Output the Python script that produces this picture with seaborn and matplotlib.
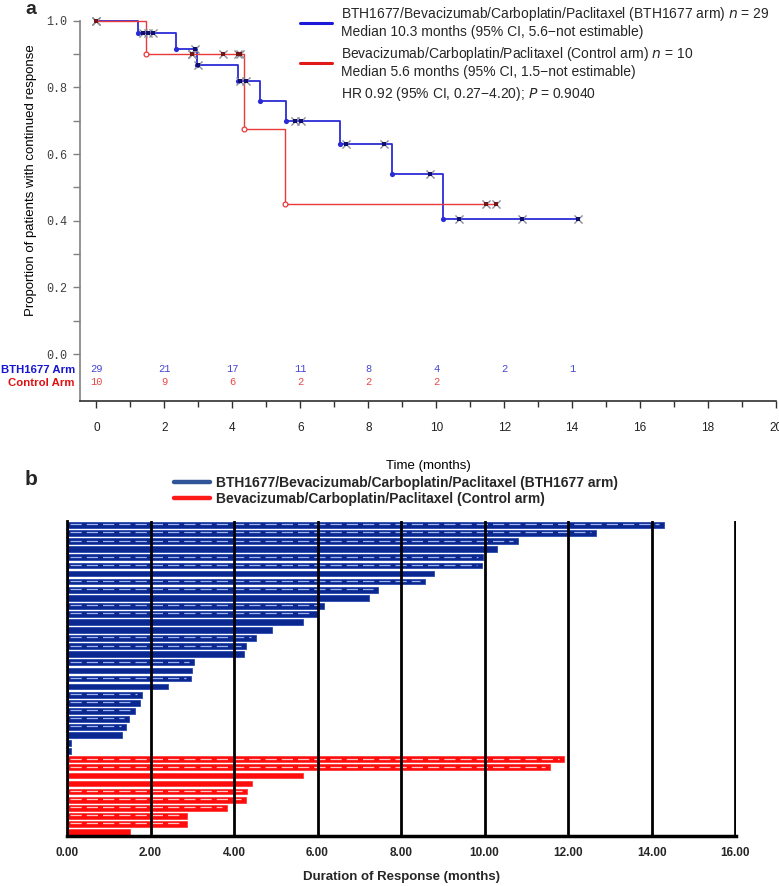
import numpy as np
import pandas as pd
import matplotlib
matplotlib.use("Agg")
import matplotlib.pyplot as plt
from matplotlib.lines import Line2D
from matplotlib.ticker import FixedLocator
import seaborn as sns

# ---------------- Panel a data (Kaplan-Meier) ----------------
bth_step_t = [0, 1.21, 2.34, 2.95, 4.17, 4.81, 5.57, 7.16, 8.70, 10.20, 14.16]
bth_step_s = [1.0, 0.962, 0.916, 0.868, 0.819, 0.759, 0.700, 0.629, 0.539, 0.404, 0.404]
bth_event_t = [1.21, 2.34, 2.95, 4.17, 4.81, 5.57, 7.16, 8.70, 10.20]
bth_censor_t = [0.0, 1.38, 1.52, 1.66, 2.90, 3.00, 4.22, 4.40, 5.84, 6.03, 7.33, 8.46,
                9.83, 10.67, 12.53, 14.16]
ctl_step_t = [0, 1.45, 4.35, 5.56, 11.76]
ctl_step_s = [1.0, 0.900, 0.674, 0.450, 0.450]
ctl_event_t = [1.45, 4.35, 5.56]
ctl_censor_t = [0.0, 2.80, 2.80, 3.71, 4.17, 4.22, 11.45, 11.76]

risk_times_bth = [0, 2, 4, 6, 8, 10, 12, 14]
bth_at_risk = [29, 21, 17, 11, 8, 4, 2, 1]
risk_times_ctl = [0, 2, 4, 6, 8, 10]
ctl_at_risk = [10, 9, 6, 2, 2, 2]

legend_a = [
    "BTH1677/Bevacizumab/Carboplatin/Paclitaxel (BTH1677 arm) $n$ = 29\nMedian 10.3 months (95% CI, 5.6\u2212not estimable)",
    "Bevacizumab/Carboplatin/Paclitaxel (Control arm) $n$ = 10\nMedian 5.6 months (95% CI, 1.5\u2212not estimable)",
    "HR 0.92 (95% CI, 0.27\u22124.20); $P$ = 0.9040",
]

# ---------------- Panel b data (duration of response swimmer bars) ----------------
bth_dur = [14.3, 12.67, 10.8, 10.3, 9.95, 9.93, 8.78, 8.57, 7.45, 7.23, 6.15, 5.98, 5.65,
           4.9, 4.52, 4.28, 4.24, 3.04, 3.0, 2.98, 2.42, 1.79, 1.75, 1.63, 1.48, 1.42, 1.31,
           0.1, 0.1]
bth_cens = [1, 1, 1, 0, 1, 1, 0, 1, 1, 0, 1, 1, 0, 0, 1, 1, 0, 1, 0, 1, 0, 1, 1, 1, 1, 1, 0,
            0, 0]
ctl_dur = [11.89, 11.56, 5.64, 4.42, 4.31, 4.28, 3.82, 2.88, 2.88, 1.52]
ctl_cens = [1, 1, 0, 0, 1, 1, 1, 1, 1, 0]
arm_names = ["BTH1677/Bevacizumab/Carboplatin/Paclitaxel (BTH1677 arm)",
             "Bevacizumab/Carboplatin/Paclitaxel (Control arm)"]

# ---------------- style ----------------
sns.set_theme(style="ticks")
plt.rcParams["font.family"] = ["Liberation Sans", "DejaVu Sans"]
MONO = ["Liberation Mono", "DejaVu Sans Mono"]

BLUE = "#2b2bd6"
RED = "#e83a3a"

W, H = 779, 886
fig = plt.figure(figsize=(W / 100, H / 100), dpi=100)

# =============== Panel a ===============
ax_l, ax_r, ax_t, ax_b = 80, 776, 20.7, 401
axa = fig.add_axes([ax_l / W, 1 - ax_b / H, (ax_r - ax_l) / W, (ax_b - ax_t) / H])


def level(step_t, step_s, times):
    idx = np.searchsorted(np.asarray(step_t), np.asarray(times), side="right") - 1
    return np.asarray(step_s)[idx]


sns.lineplot(x=bth_step_t, y=bth_step_s, drawstyle="steps-post", estimator=None, sort=False,
             color=BLUE, lw=1.3, ax=axa, clip_on=False)
sns.lineplot(x=ctl_step_t, y=ctl_step_s, drawstyle="steps-post", estimator=None, sort=False,
             color=RED, lw=1.0, ax=axa, clip_on=False)

# event markers
sns.scatterplot(x=bth_event_t, y=level(bth_step_t, bth_step_s, bth_event_t), color=BLUE,
                s=14, edgecolor=BLUE, linewidth=0, ax=axa, zorder=4)
sns.scatterplot(x=ctl_event_t, y=level(ctl_step_t, ctl_step_s, ctl_event_t), facecolor="white",
                edgecolor=RED, s=12, linewidth=0.9, ax=axa, zorder=4)

# censor markers
for ct, st, ss, sq in [(bth_censor_t, bth_step_t, bth_step_s, "#10106a"),
                       (ctl_censor_t, ctl_step_t, ctl_step_s, "#701818")]:
    yy = level(st, ss, ct)
    sns.scatterplot(x=ct, y=yy, marker="x", color="#8a8a9a", s=34, linewidth=1.0, ax=axa,
                    zorder=5, clip_on=False)
    sns.scatterplot(x=ct, y=yy, marker="s", color=sq, s=9, linewidth=0, ax=axa, zorder=6,
                    clip_on=False)

axa.set_xlim(-0.485, 20.0)
axa.set_ylim(-0.141, 1.0)
axa.yaxis.set_major_locator(FixedLocator([0, 0.2, 0.4, 0.6, 0.8, 1.0]))
axa.yaxis.set_minor_locator(FixedLocator([0.1, 0.3, 0.5, 0.7, 0.9]))
axa.set_yticklabels([f"{v:.1f}" for v in [0, 0.2, 0.4, 0.6, 0.8, 1.0]])
axa.xaxis.set_major_locator(FixedLocator(list(range(0, 21, 2))))
axa.xaxis.set_minor_locator(FixedLocator(list(range(1, 20, 2))))
for lab in axa.get_yticklabels():
    lab.set_family(MONO)
    lab.set_fontsize(8.5)
    lab.set_color("#404040")
for lab in axa.get_xticklabels():
    lab.set_fontsize(8.5)
    lab.set_color("#202020")
axa.tick_params(axis="y", which="major", length=5, width=1, color="#808080", pad=4)
axa.tick_params(axis="y", which="minor", length=5, width=1, color="#808080")
axa.tick_params(axis="x", which="major", length=5, width=1, color="#303030", pad=10)
axa.tick_params(axis="x", which="minor", length=4, width=1, color="#303030")
for s in ["top", "right"]:
    axa.spines[s].set_visible(False)
axa.spines["left"].set_color("#808080")
axa.spines["left"].set_linewidth(1.2)
axa.spines["bottom"].set_color("#303030")
axa.spines["bottom"].set_linewidth(1.2)

axa.set_ylabel("Proportion of patients with continued response", fontsize=9.5, color="black")
axa.yaxis.set_label_coords(-0.062, 0.58)
axa.set_xlabel("Time (months)", fontsize=9.5, color="black")
axa.xaxis.set_label_coords(0.5, -0.155)

# numbers at risk
for t, n in zip(risk_times_bth, bth_at_risk):
    axa.text(t, -0.046, str(n), ha="center", va="center", family=MONO, fontsize=7.5,
             color="#4646d8")
for t, n in zip(risk_times_ctl, ctl_at_risk):
    axa.text(t, -0.083, str(n), ha="center", va="center", family=MONO, fontsize=7.5,
             color="#e84848")
fig.text(75 / W, 1 - 370 / H, "BTH1677 Arm", ha="right", va="center",
         fontsize=8.2, weight="bold", color="#1515d0")
fig.text(75 / W, 1 - 383 / H, "Control Arm", ha="right", va="center",
         fontsize=8.2, weight="bold", color="#e01010")

handles_a = [Line2D([], [], color="#1a1ad8", lw=2.2),
             Line2D([], [], color="#e01818", lw=2.2),
             Line2D([], [], color="none", lw=0)]
fig.legend(handles_a, legend_a, loc="upper left", bbox_to_anchor=(300 / W, 1 - 5 / H),
           frameon=False, fontsize=10, handlelength=2.3, handletextpad=0.65,
           labelspacing=0.42, borderpad=0, borderaxespad=0)

fig.text(25 / W, 1 - 14 / H, "a", fontsize=14, weight="bold", ha="left", va="baseline")

# =============== Panel b ===============
bl, br, bt, bb = 67, 736, 521, 836
axb = fig.add_axes([bl / W, 1 - bb / H, (br - bl) / W, (bb - bt) / H])

df = pd.DataFrame({
    "row": [str(i) for i in range(len(bth_dur) + len(ctl_dur))],
    "dur": bth_dur + ctl_dur,
    "arm": [arm_names[0]] * len(bth_dur) + [arm_names[1]] * len(ctl_dur),
    "cens": bth_cens + ctl_cens,
})
BAR_BLUE = "#0b2890"
BAR_RED = "#ff0d0d"
sns.barplot(data=df, x="dur", y="row", hue="arm", orient="h", dodge=False, width=0.72,
            palette={arm_names[0]: BAR_BLUE, arm_names[1]: BAR_RED}, legend=False,
            saturation=1, edgecolor="none", linewidth=0, ax=axb, zorder=1)
for patch, arm in zip(axb.patches, df["arm"]):
    patch.set_edgecolor("#2a48b0" if arm == arm_names[0] else "#ff3a3a")
    patch.set_linewidth(0.6)

cens = df[df["cens"] == 1]
rows_idx = cens.index.to_numpy()
dash_col = ["#9fb4ee" if a == arm_names[0] else "#ffc8c8" for a in cens["arm"]]
axb.hlines(y=rows_idx - 0.08, xmin=0.08, xmax=cens["dur"].to_numpy() - 0.12, colors=dash_col,
           linestyles=(0, (9, 4)), lw=0.9, zorder=2)

axb.set_xlim(0, 16.02)
axb.set_ylim(len(df) - 0.5, -0.5)
axb.set_xticks(np.arange(0, 17, 2))
axb.set_xticklabels([f"{v:.2f}" for v in np.arange(0, 17, 2)], fontsize=8.5, weight="bold")
axb.set_yticks([])
axb.set_ylabel("")
axb.grid(axis="x", color="black", lw=2.0)
axb.grid(axis="y", visible=False)
axb.set_axisbelow(False)
axb.tick_params(axis="x", length=0, pad=8)
for s in ["top", "right"]:
    axb.spines[s].set_visible(False)
axb.spines["left"].set_color("black")
axb.spines["left"].set_linewidth(2.0)
axb.spines["bottom"].set_color("black")
axb.spines["bottom"].set_linewidth(2.5)
axb.set_xlabel("Duration of Response (months)", fontsize=9.5, weight="bold")
axb.xaxis.set_label_coords(0.5, -0.112)

handles_b = [Line2D([], [], color="#2f5597", lw=3.2), Line2D([], [], color="#ff1a1a", lw=3.2)]
fig.legend(handles_b, arm_names, loc="center", bbox_to_anchor=(396 / W, 1 - 491 / H),
           frameon=False, prop={"weight": "bold", "size": 10}, handlelength=2.6,
           handletextpad=0.4, labelspacing=0.1, borderpad=0, borderaxespad=0)

fig.text(25 / W, 1 - 485 / H, "b", fontsize=15, weight="bold", ha="left", va="baseline")

fig.savefig("out.png", dpi=100)
